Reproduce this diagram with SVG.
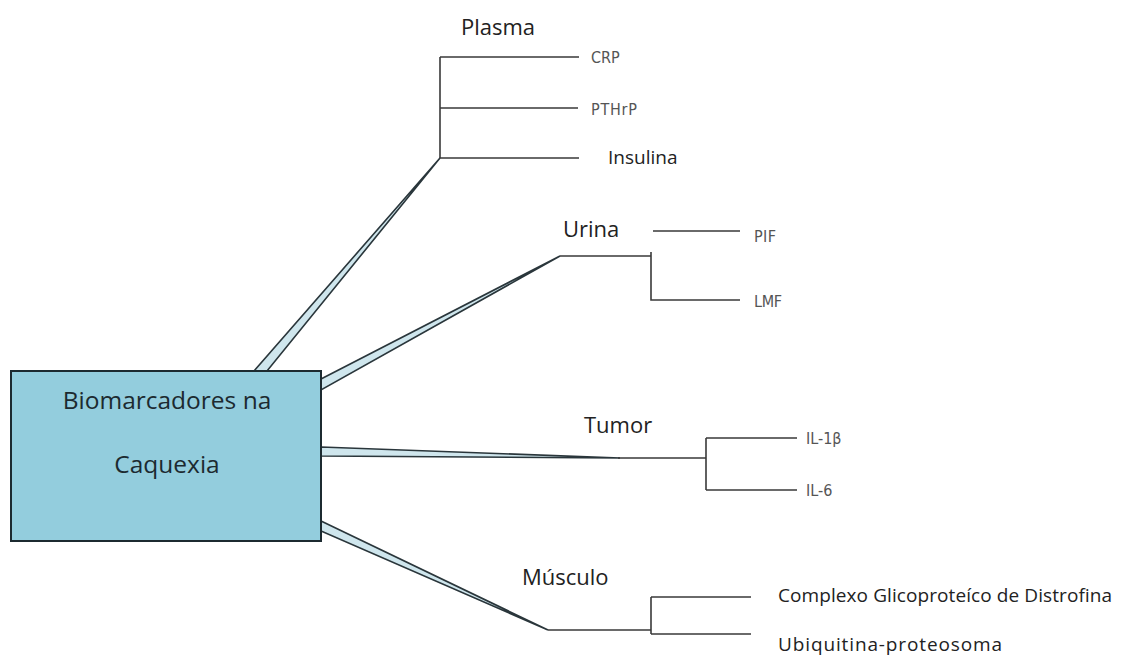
<svg xmlns="http://www.w3.org/2000/svg" width="1124" height="662" viewBox="0 0 1124 662">
  <style>
    .wedge { fill: #cfe6ed; stroke: #2a363b; stroke-width: 1.6; stroke-linejoin: miter; }
    .line { fill: none; stroke: #3a3a3a; stroke-width: 1.6; }
    .group { font-family: "Open Sans", Lato, sans-serif; font-size: 22px; fill: #222; }
    .leaf { font-family: "Open Sans", Lato, sans-serif; font-size: 19px; fill: #222; }
    .tag { font-family: "DejaVu Sans Condensed", "DejaVu Sans", sans-serif; font-stretch: condensed; font-size: 16px; fill: #555; }
    .main { font-family: "Open Sans", Lato, sans-serif; font-size: 24.5px; fill: #1c2a30; text-anchor: middle; }
  </style>

  <rect width="1124" height="662" fill="#ffffff"/>

  <!-- connectors: tapered links from the central box, then the branch lines -->
  <g id="connectors">
    <polygon class="wedge" points="254,371 440,158 267,371"/>
    <polygon class="wedge" points="321,379 560,256 321,390"/>
    <polygon class="wedge" points="321,447 620,458 321,456"/>
    <polygon class="wedge" points="321,521 548,630 321,531"/>

    <!-- Plasma -->
    <path class="line" d="M440,57 V158 M440,57 H579 M440,108 H578 M440,158 H579"/>
    <!-- Urina -->
    <path class="line" d="M560,256 H651 M651,252 V300 H740 M653,231 H740"/>
    <!-- Tumor -->
    <path class="line" d="M618,458 H706 M706,438 V490 M706,438 H797 M706,490 H797"/>
    <!-- Músculo -->
    <path class="line" d="M548,630 H651 M651,597 V634 M651,597 H751 M651,634 H751"/>
  </g>

  <g id="node-main">
    <rect x="11" y="371" width="310" height="170" fill="#93cddd" stroke="#1c2a30" stroke-width="2"/>
    <text class="main" x="167" y="409">Biomarcadores na</text>
    <text class="main" x="167" y="473">Caquexia</text>
  </g>

  <g id="node-plasma">
    <text class="group" x="461" y="35">Plasma</text>
  </g>
  <g id="node-crp"><text class="tag" x="591" y="63" font-size="17">CRP</text></g>
  <g id="node-pthrp"><text class="tag" x="591" y="115" textLength="46">PTHrP</text></g>
  <g id="node-insulina"><text class="leaf" x="608" y="164" font-size="21">Insulina</text></g>

  <g id="node-urina">
    <text class="group" x="563" y="237">Urina</text>
  </g>
  <g id="node-pif"><text class="tag" x="754" y="242" textLength="22">PIF</text></g>
  <g id="node-lmf"><text class="tag" x="754" y="307" textLength="28">LMF</text></g>

  <g id="node-tumor">
    <text class="group" x="584" y="433">Tumor</text>
  </g>
  <g id="node-il1b"><text class="tag" x="806" y="444" font-size="15">IL-1β</text></g>
  <g id="node-il6"><text class="tag" x="806" y="496" font-size="15">IL-6</text></g>

  <g id="node-musculo">
    <text class="group" x="522" y="585">Músculo</text>
  </g>
  <g id="node-complexo"><text class="leaf" x="778" y="602" textLength="334">Complexo Glicoproteíco de Distrofina</text></g>
  <g id="node-ubiquitina"><text class="leaf" x="778" y="651" textLength="224">Ubiquitina-proteosoma</text></g>
</svg>
